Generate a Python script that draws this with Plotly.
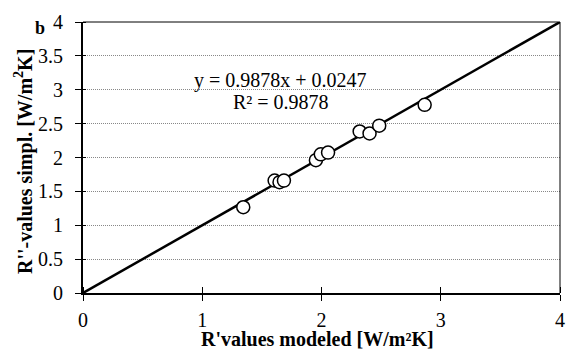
import plotly.graph_objects as go

r_modeled = [1.344, 1.607, 1.648, 1.685, 1.953, 1.994, 2.055, 2.320, 2.403, 2.484, 2.865]
r_simpl = [1.266, 1.659, 1.636, 1.659, 1.961, 2.047, 2.072, 2.384, 2.355, 2.470, 2.777]
line_x = [0, 4]
line_y = [0, 4]
ticks_x = [0, 1, 2, 3, 4]
ticks_y = [0, 0.5, 1, 1.5, 2, 2.5, 3, 3.5, 4]

font = "Liberation Serif"
L, R, T, B = 83, 11, 15, 57
W, H = 576, 350
pw = W - L - R
ph = H - T - B


def px(xp):
    return (xp - L) / pw


def py(yp):
    return 1 - (yp - T) / ph


def note(text, x, y, size, angle=0):
    return dict(text=text, x=px(x), y=py(y), xref="paper", yref="paper",
                xanchor="center", yanchor="middle", showarrow=False,
                textangle=angle, font=dict(family=font, size=size, color="black"))


fig = go.Figure()
fig.add_trace(go.Scatter(x=line_x, y=line_y, mode="lines",
                         line=dict(color="black", width=2.5), showlegend=False))
fig.add_trace(go.Scatter(x=r_modeled, y=r_simpl, mode="markers",
                         marker=dict(size=13, color="white", line=dict(color="black", width=1.5)),
                         showlegend=False))

fig.update_layout(
    width=W, height=H,
    margin=dict(l=L, r=R, t=T, b=B),
    plot_bgcolor="white", paper_bgcolor="white",
    font=dict(family=font, size=20, color="black"),
    xaxis=dict(range=[0, 4], tickvals=ticks_x, ticktext=[str(v) for v in ticks_x],
               tickfont=dict(family=font, size=20, color="black"),
               showgrid=False, zeroline=False, showline=True, linecolor="black", linewidth=2,
               ticks="outside", ticklen=6, tickwidth=1, tickcolor="black",
               ticklabelstandoff=2,
               minor=dict(tickvals=ticks_x, ticks="inside", ticklen=6, tickwidth=1,
                          tickcolor="black", showgrid=False)),
    yaxis=dict(range=[0, 4], tickvals=ticks_y, ticktext=[f"{v:g}" for v in ticks_y],
               tickfont=dict(family=font, size=20, color="black"),
               showgrid=True, gridcolor="#888888", griddash="1px,1px", gridwidth=1,
               zeroline=False, showline=True, linecolor="black", linewidth=2,
               ticks="outside", ticklen=6, tickwidth=1, tickcolor="black",
               ticklabelstandoff=8,
               minor=dict(tickvals=ticks_y, ticks="inside", ticklen=3, tickwidth=1,
                          tickcolor="black", showgrid=False)),
    shapes=[
        dict(type="line", xref="paper", yref="paper", x0=0, x1=1, y0=1, y1=1,
             line=dict(color="black", width=1)),
        dict(type="line", xref="paper", yref="paper", x0=1, x1=1, y0=0, y1=1,
             line=dict(color="black", width=1)),
    ],
    annotations=[
        note("y = 0.9878x + 0.0247", 283, 75, 20),
        note("R² = 0.9878", 283, 97, 20),
        note("<b>b</b>", 40, 21, 18),
        note("<b>R'values modeled [W/m²K]</b>", 320, 340, 20),
        note("<b>R''-values simpl. [W/m<sup>2</sup>K]</b>", 23, 158, 20, -90),
    ],
)

fig.write_html("out.html")
